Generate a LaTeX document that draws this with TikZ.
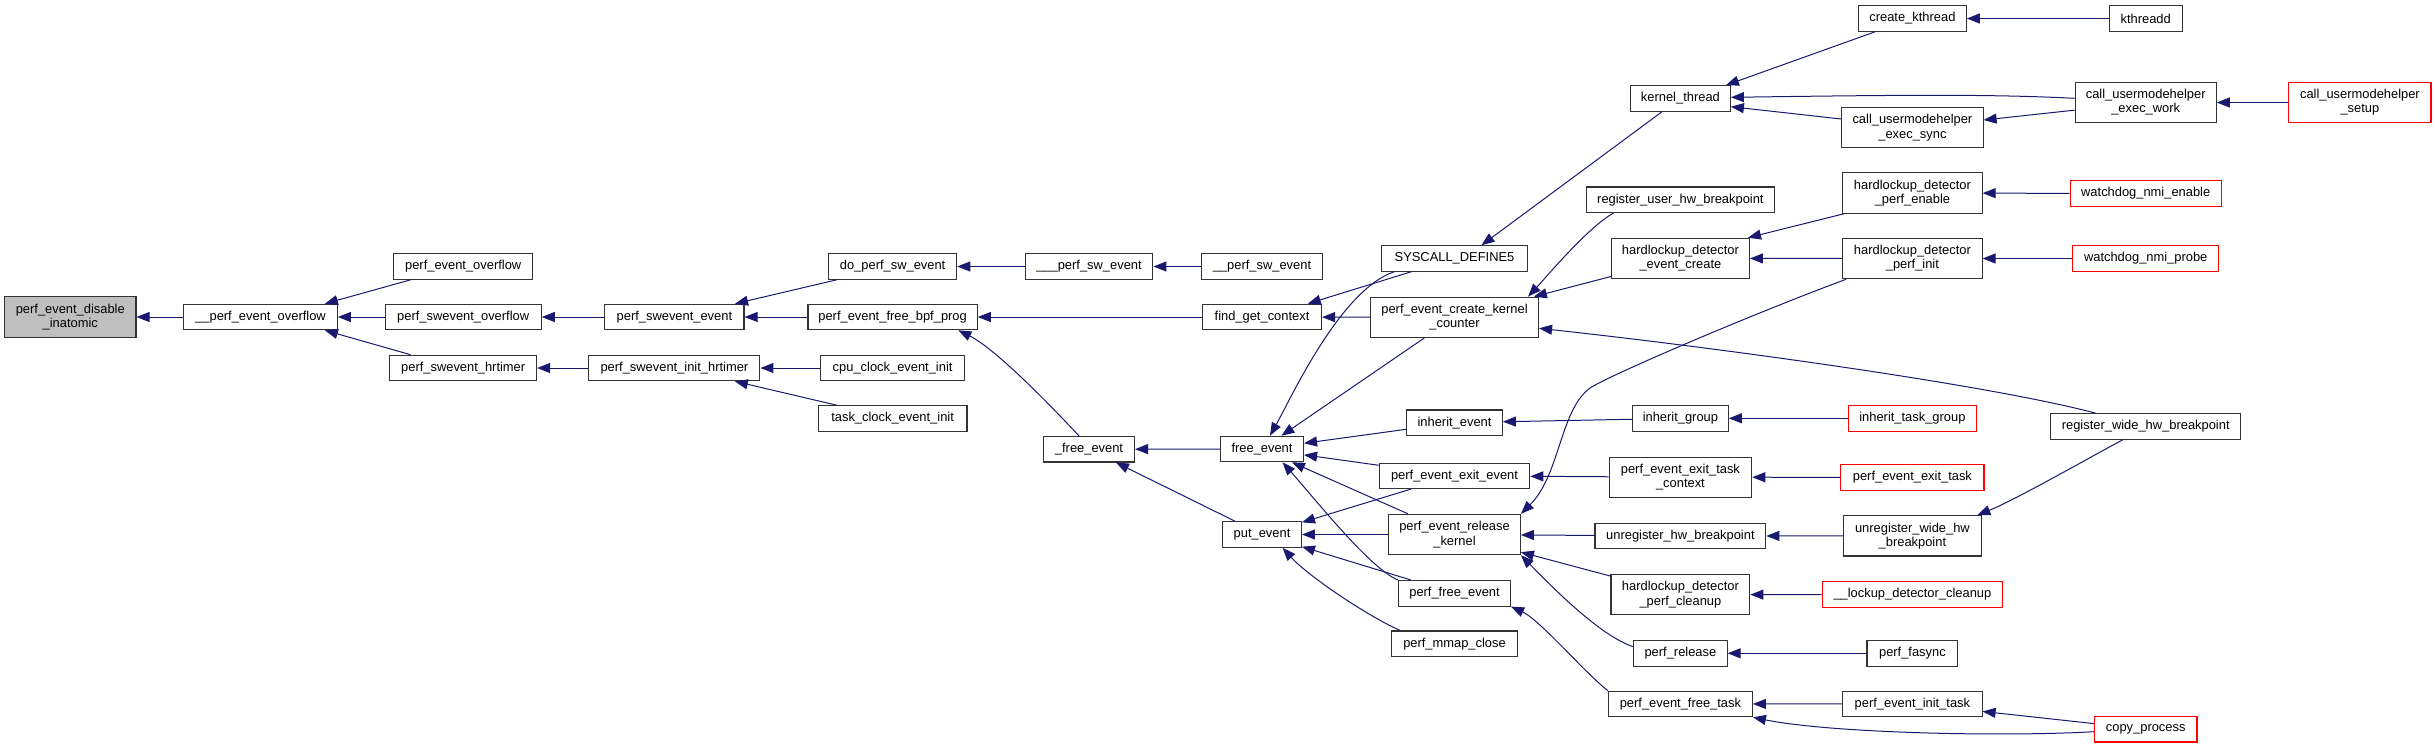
\documentclass[tikz,border=0pt]{standalone}
\usepackage{fontspec}
\setmainfont{Liberation Sans}
\usetikzlibrary{arrows.meta}
\definecolor{edgeblue}{HTML}{191970}
\definecolor{nodegray}{HTML}{BFBFBF}
\definecolor{boxline}{HTML}{333333}
\definecolor{boxred}{HTML}{FF0000}
\newcommand\gfont{\fontsize{12.9}{14.2}\selectfont}
\begin{document}
\begin{tikzpicture}[x=1pt,y=-1pt,
  nbox/.style={draw=boxline, line width=1.1pt, fill=white, inner xsep=1pt, inner ysep=0pt, minimum height=25.5pt, font=\gfont, align=center},
  tallbox/.style={minimum height=40.3pt},
  redb/.style={draw=boxred},
  bw/.style={minimum width=#1pt},
  conn/.style={draw=edgeblue, line width=1pt, {Triangle[length=13pt,width=10pt]}-}]
\fill[white] (0,0) rectangle (2436,748);
\useasboundingbox (0,0) rectangle (2436,748);
% nodes
\node[nbox,bw=131.3,tallbox,fill=nodegray] (n0) at (70.3,317) {perf\_event\_disable\\\_inatomic};
\node[nbox,bw=153.6] (peo2) at (260.5,317) {\_\_perf\_event\_overflow};
\node[nbox,bw=138.8] (peo) at (463.2,266.5) {perf\_event\_overflow};
\node[nbox,bw=156] (pso) at (463.2,317) {perf\_swevent\_overflow};
\node[nbox,bw=146.7] (psh) at (463.2,368) {perf\_swevent\_hrtimer};
\node[nbox,bw=139.2] (pse) at (674.4,317) {perf\_swevent\_event};
\node[nbox,bw=171] (psih) at (674.4,368) {perf\_swevent\_init\_hrtimer};
\node[nbox,bw=128.2] (dpse) at (892.6,266.5) {do\_perf\_sw\_event};
\node[nbox,bw=169.2] (bpf) at (892.6,317) {perf\_event\_free\_bpf\_prog};
\node[nbox,bw=144.4] (cpu) at (892.6,368) {cpu\_clock\_event\_init};
\node[nbox,bw=148.7] (task) at (892.6,418.5) {task\_clock\_event\_init};
\node[nbox,bw=127.8] (psw3) at (1089,266.5) {\_\_\_perf\_sw\_event};
\node[nbox,bw=91] (fex) at (1089,449.2) {\_free\_event};
\node[nbox,bw=121] (psw2) at (1262,266.5) {\_\_perf\_sw\_event};
\node[nbox,bw=119] (fgc) at (1262,317) {find\_get\_context};
\node[nbox,bw=83] (fe) at (1262,449) {free\_event};
\node[nbox,bw=78.8] (put) at (1262,534.5) {put\_event};
\node[nbox,bw=146.3] (sys) at (1454.5,258.5) {SYSCALL\_DEFINE5};
\node[nbox,bw=168,tallbox] (pekc) at (1454.5,317.3) {perf\_event\_create\_kernel\\\_counter};
\node[nbox,bw=95.7] (inhe) at (1454.5,422.7) {inherit\_event};
\node[nbox,bw=150.5] (peee) at (1454.5,475.8) {perf\_event\_exit\_event};
\node[nbox,bw=131.8,tallbox] (perk) at (1454.5,534.5) {perf\_event\_release\\\_kernel};
\node[nbox,bw=112] (pfe) at (1454.5,593.3) {perf\_free\_event};
\node[nbox,bw=125.6] (pmc) at (1454.5,643.7) {perf\_mmap\_close};
\node[nbox,bw=99.9] (kt) at (1680.4,98.5) {kernel\_thread};
\node[nbox,bw=187.8] (rubp) at (1680.4,199.7) {register\_user\_hw\_breakpoint};
\node[nbox,bw=138,tallbox] (hdec) at (1680.4,258.4) {hardlockup\_detector\\\_event\_create};
\node[nbox,bw=95.7] (inhg) at (1680.4,418.3) {inherit\_group};
\node[nbox,bw=142.6,tallbox] (petc) at (1680.4,477.2) {perf\_event\_exit\_task\\\_context};
\node[nbox,bw=170.8] (uhb) at (1680.4,536) {unregister\_hw\_breakpoint};
\node[nbox,bw=138.9,tallbox] (hdpc) at (1680.4,594.7) {hardlockup\_detector\\\_perf\_cleanup};
\node[nbox,bw=93.3] (prel) at (1680.4,653.3) {perf\_release};
\node[nbox,bw=143.9] (peft) at (1680.4,704) {perf\_event\_free\_task};
\node[nbox,bw=107.7] (ck) at (1912.4,18.5) {create\_kthread};
\node[nbox,bw=141.3,tallbox] (cues) at (1912.4,127.7) {call\_usermodehelper\\\_exec\_sync};
\node[nbox,bw=139.3,tallbox] (hdpe) at (1912.4,193) {hardlockup\_detector\\\_perf\_enable};
\node[nbox,bw=139.3,tallbox] (hdpi) at (1912.4,258.5) {hardlockup\_detector\\\_perf\_init};
\node[nbox,bw=128.4,redb] (itg) at (1912.4,418.3) {inherit\_task\_group};
\node[nbox,bw=143.1,redb] (pet) at (1912.4,477.3) {perf\_event\_exit\_task};
\node[nbox,bw=137.7,tallbox] (uwhb) at (1912.4,535.8) {unregister\_wide\_hw\\\_breakpoint};
\node[nbox,bw=180.3,redb] (ldc) at (1912.4,594.5) {\_\_lockup\_detector\_cleanup};
\node[nbox,bw=90.8] (pfa) at (1912.4,653.3) {perf\_fasync};
\node[nbox,bw=139.3] (peit) at (1912.4,703.8) {perf\_event\_init\_task};
\node[nbox,bw=72.7] (kd) at (2145.7,18.5) {kthreadd};
\node[nbox,bw=141,tallbox] (cuew) at (2145.7,102.5) {call\_usermodehelper\\\_exec\_work};
\node[nbox,bw=151,redb] (wne) at (2145.7,193.5) {watchdog\_nmi\_enable};
\node[nbox,bw=145.6,redb] (wnp) at (2145.7,258.5) {watchdog\_nmi\_probe};
\node[nbox,bw=190.4] (rwhb) at (2145.7,426.5) {register\_wide\_hw\_breakpoint};
\node[nbox,bw=102.6,redb] (cp) at (2145.7,729.2) {copy\_process};
\node[nbox,bw=142.2,tallbox,redb] (cusu) at (2359.9,102.5) {call\_usermodehelper\\\_setup};
% edges (arrow at callee)
\draw[conn] (n0) -- (peo2);
\draw[conn] ([xshift=-13pt]peo2.north east) -- ([xshift=17.4pt]peo.south west);
\draw[conn] (peo2) -- (pso);
\draw[conn] ([xshift=-13pt]peo2.south east) -- ([xshift=21.3pt]psh.north west);
\draw[conn] (pso) -- (pse);
\draw[conn] (psh) -- (psih);
\draw[conn] ([xshift=-9.5pt]pse.north east) -- ([xshift=8.7pt]dpse.south west);
\draw[conn] (pse) -- (bpf);
\draw[conn] (psih) -- (cpu);
\draw[conn] ([xshift=-25.6pt]psih.south east) -- ([xshift=19pt]task.north west);
\draw[conn] (dpse) -- (psw3);
\draw[conn] (psw3) -- (psw2);
\draw[conn] (bpf) -- (fgc);
\draw[conn] ([xshift=-19.4pt]bpf.south east) .. controls (996,349) and (1052,407) .. ([xshift=-10pt]fex.north);
\draw[conn] (fex) -- (fe);
\draw[conn] (fex) -- (put);
\draw[conn] ([xshift=45.8pt]fgc.north) -- ([xshift=-43.4pt]sys.south);
\draw[conn] (fgc) -- (pekc);
\draw[conn] ([xshift=8pt]fe.north) .. controls (1290,400) and (1340,290) .. ([xshift=13.3pt]sys.south west);
\draw[conn] (fe) -- (pekc);
\draw[conn] (fe) -- (inhe);
\draw[conn] (fe) -- (peee);
\draw[conn] (fe) -- (perk);
\draw[conn] ([xshift=20.6pt]fe.south) .. controls (1320,505) and (1371,569) .. (pfe.north west);
\draw[conn] (put) -- (peee);
\draw[conn] (put) -- (perk);
\draw[conn] (put) -- (pfe);
\draw[conn] ([xshift=20.6pt]put.south) .. controls (1308,576) and (1369,617) .. ([xshift=9pt]pmc.north west);
\draw[conn] ([xshift=27pt]sys.north) -- ([xshift=-18.5pt]kt.south);
\draw[conn] ([xshift=-11pt]pekc.north east) .. controls (1544.5,279) and (1588,227) .. ([xshift=27.6pt]rubp.south west);
\draw[conn] (pekc) -- (hdec);
\draw[conn] ([yshift=-11pt]pekc.east) .. controls (1720,348) and (1990,385) .. ([xshift=-50pt]rwhb.north);
\draw[conn] (perk.north east) .. controls (1560,475) and (1560,410) .. (1590,388) .. controls (1610,375) and (1750,315) .. ([xshift=4pt]hdpi.south west);
\draw[conn] (inhe) -- (inhg);
\draw[conn] (peee) -- (petc);
\draw[conn] (perk) -- (uhb);
\draw[conn] (perk) -- (hdpc);
\draw[conn] (perk.south east) .. controls (1555,590) and (1600.8,636) .. ([yshift=6.6pt]prel.west);
\draw[conn] (pfe.south east) .. controls (1540,620) and (1585,673) .. (peft.north west);
\draw[conn] ([xshift=-5pt]kt.north east) -- ([xshift=17pt]ck.south west);
\draw[conn] ([yshift=1.2pt]kt.east) .. controls (1900,95) and (1990,94) .. ([yshift=4.2pt]cuew.west);
\draw[conn] ([yshift=-8.2pt]kt.east) -- ([yshift=8.7pt]cues.west);
\draw[conn] ([xshift=-2pt]hdec.north east) -- ([xshift=2pt]hdpe.south west);
\draw[conn] (hdec) -- (hdpi);
\draw[conn] (inhg) -- (itg);
\draw[conn] (petc) -- (pet);
\draw[conn] (uhb) -- (uwhb);
\draw[conn] (hdpc) -- (ldc);
\draw[conn] (prel) -- (pfa);
\draw[conn] (peft) -- (peit);
\draw[conn] (peft.south east) .. controls (1830,733) and (2000,737) .. ([yshift=-2.5pt]cp.west);
\draw[conn] (ck) -- (kd);
\draw[conn] (cues) -- (cuew);
\draw[conn] (cuew) -- (cusu);
\draw[conn] (hdpe) -- (wne);
\draw[conn] (hdpi) -- (wnp);
\draw[conn] ([xshift=-4.5pt]uwhb.north east) .. controls (2015,500) and (2085,460) .. ([xshift=-23pt]rwhb.south);
\draw[conn] (peit) -- (cp);
\end{tikzpicture}
\end{document}
